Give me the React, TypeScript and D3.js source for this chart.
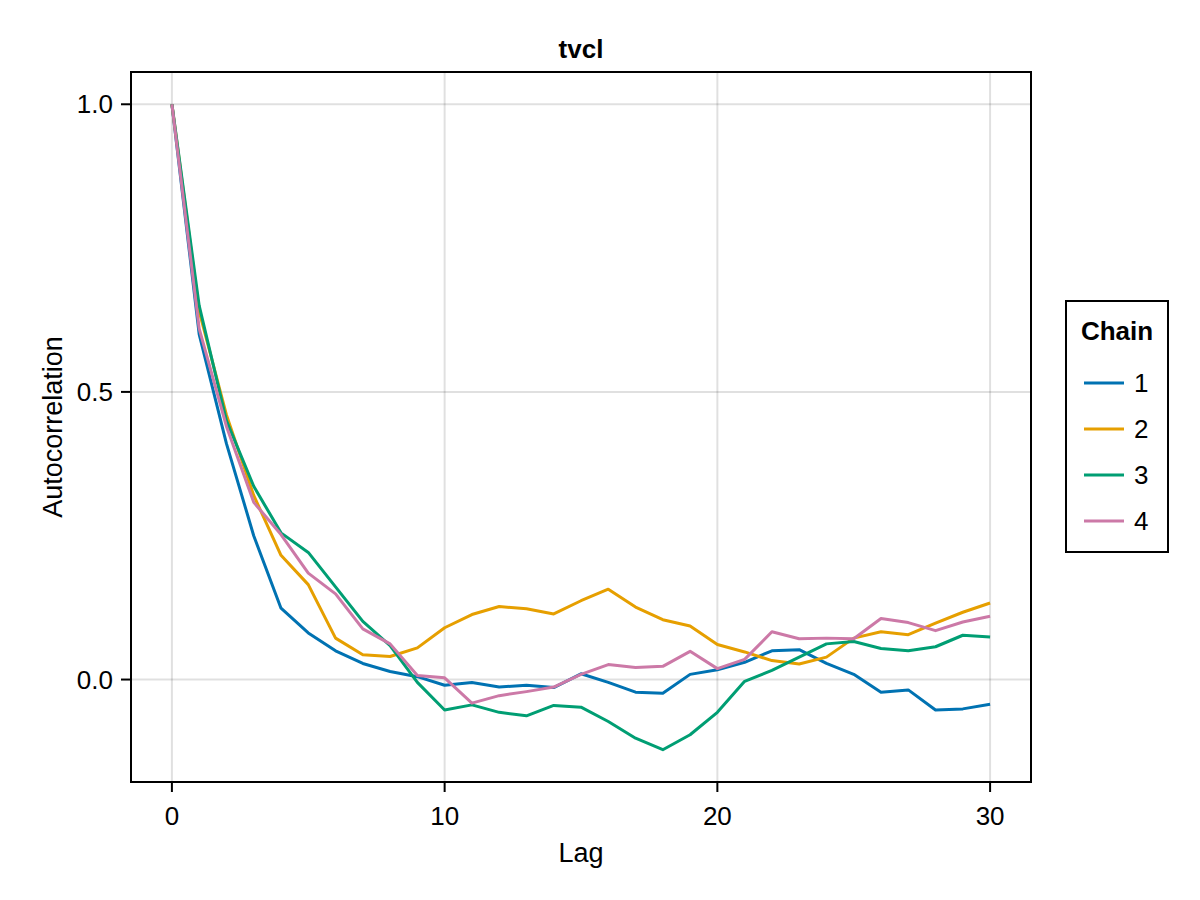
import React from "react";
import * as d3 from "d3";

const lags = d3.range(0, 31);
const chain1 = [1.0, 0.60, 0.41, 0.25, 0.124, 0.081, 0.050, 0.028, 0.014, 0.005, -0.010, -0.005, -0.013, -0.010, -0.014, 0.010, -0.005, -0.022, -0.024, 0.009, 0.017, 0.030, 0.050, 0.052, 0.028, 0.009, -0.022, -0.018, -0.053, -0.051, -0.043];
const chain2 = [1.0, 0.64, 0.46, 0.32, 0.216, 0.165, 0.072, 0.043, 0.040, 0.055, 0.090, 0.113, 0.127, 0.123, 0.114, 0.137, 0.157, 0.126, 0.104, 0.093, 0.061, 0.048, 0.033, 0.027, 0.039, 0.072, 0.083, 0.078, 0.098, 0.117, 0.133];
const chain3 = [1.0, 0.65, 0.45, 0.336, 0.255, 0.221, 0.161, 0.101, 0.059, -0.005, -0.053, -0.044, -0.057, -0.063, -0.045, -0.048, -0.073, -0.102, -0.122, -0.096, -0.057, -0.003, 0.016, 0.039, 0.062, 0.066, 0.054, 0.050, 0.057, 0.077, 0.074];
const chain4 = [1.0, 0.61, 0.44, 0.308, 0.252, 0.185, 0.149, 0.088, 0.062, 0.007, 0.003, -0.041, -0.028, -0.021, -0.013, 0.009, 0.026, 0.021, 0.023, 0.049, 0.019, 0.035, 0.083, 0.071, 0.072, 0.071, 0.106, 0.099, 0.085, 0.100, 0.110];

const chainNames = ["1", "2", "3", "4"];
const chainColors = ["#0072B2", "#E69F00", "#009E73", "#CC79A7"];
const xTicks = [0, 10, 20, 30];
const yTicks = [0.0, 0.5, 1.0];

const FONT = "'Liberation Sans', Arial, sans-serif";

export default function App() {
  const W = 1200, H = 900;
  const L = 131, R = 1031, T = 72, B = 782;
  const series = [chain1, chain2, chain3, chain4];
  const all = series.flat();
  const [ymin, ymax] = d3.extent(all) as [number, number];
  const ypad = (ymax - ymin) * 0.05;
  const xpad = 30 * 0.05;
  const x = d3.scaleLinear().domain([-xpad, 30 + xpad]).range([L, R]);
  const y = d3.scaleLinear().domain([ymin - ypad, ymax + ypad]).range([B, T]);
  const line = d3.line<number>().x((_, i) => x(lags[i])).y((d) => y(d));

  const legX = 1066, legY = 301, legW = 102, legH = 251;

  return (
    <svg width={W} height={H} style={{ position: "absolute", left: 0, top: 0 }} fontFamily={FONT}>
      <rect width={W} height={H} fill="white" />
      {xTicks.map((t) => (
        <line key={"gx" + t} x1={x(t)} x2={x(t)} y1={T} y2={B} stroke="#000" strokeOpacity={0.12} strokeWidth={2} />
      ))}
      {yTicks.map((t) => (
        <line key={"gy" + t} x1={L} x2={R} y1={y(t)} y2={y(t)} stroke="#000" strokeOpacity={0.12} strokeWidth={2} />
      ))}
      <defs>
        <clipPath id="clip">
          <rect x={L} y={T} width={R - L} height={B - T} />
        </clipPath>
      </defs>
      <g clipPath="url(#clip)">
        {series.map((s, i) => (
          <path key={i} d={line(s) || ""} fill="none" stroke={chainColors[i]} strokeWidth={3} strokeLinejoin="round" />
        ))}
      </g>
      <rect x={L} y={T} width={R - L} height={B - T} fill="none" stroke="#000" strokeWidth={2} />
      {xTicks.map((t) => (
        <g key={"tx" + t}>
          <line x1={x(t)} x2={x(t)} y1={B} y2={B + 10} stroke="#000" strokeWidth={2} />
          <text x={x(t)} y={B + 43} textAnchor="middle" fontSize={26}>{t}</text>
        </g>
      ))}
      {yTicks.map((t) => (
        <g key={"ty" + t}>
          <line x1={L - 10} x2={L} y1={y(t)} y2={y(t)} stroke="#000" strokeWidth={2} />
          <text x={L - 18} y={y(t) + 9} textAnchor="end" fontSize={26}>{t.toFixed(1)}</text>
        </g>
      ))}
      <text x={(L + R) / 2} y={862} textAnchor="middle" fontSize={27}>Lag</text>
      <text transform={`translate(62,${(T + B) / 2}) rotate(-90)`} textAnchor="middle" fontSize={27}>Autocorrelation</text>
      <text x={(L + R) / 2} y={58} textAnchor="middle" fontSize={26} fontWeight="bold">tvcl</text>
      <rect x={legX} y={legY} width={legW} height={legH} fill="white" stroke="#000" strokeWidth={2} />
      <text x={legX + legW / 2} y={340} textAnchor="middle" fontSize={26} fontWeight="bold">Chain</text>
      {chainNames.map((n, i) => {
        const cy = 383 + i * 46;
        return (
          <g key={n}>
            <line x1={1084} x2={1124} y1={cy} y2={cy} stroke={chainColors[i]} strokeWidth={3} />
            <text x={1134} y={cy + 9} fontSize={26}>{n}</text>
          </g>
        );
      })}
    </svg>
  );
}
